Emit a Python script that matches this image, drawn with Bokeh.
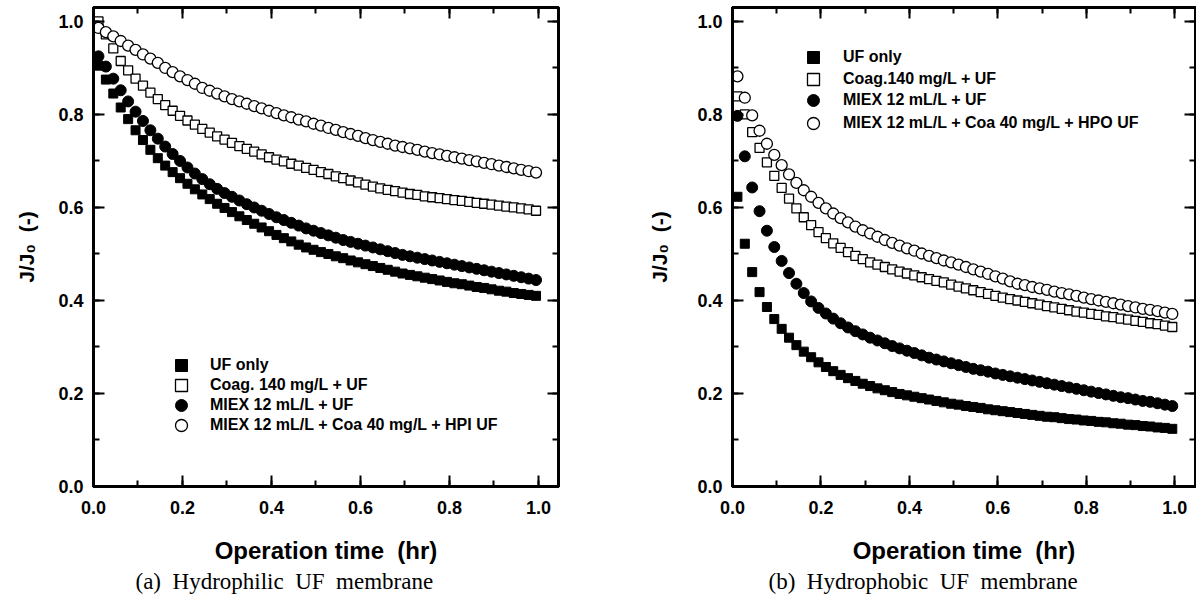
from bokeh.plotting import figure
from bokeh.models import (Range1d, SingleIntervalTicker, LinearAxis, PrintfTickFormatter,
                          CustomJSTickFormatter, Legend, LegendItem, Title)
from bokeh.layouts import row
from bokeh.embed import file_html
from bokeh.resources import INLINE

# ---- data ----
time_min = [0.67, 1.67, 2.67, 3.67, 4.67, 5.67, 6.67, 7.67, 8.67, 9.67,
            10.67, 11.67, 12.67, 13.67, 14.67, 15.67, 16.67, 17.67, 18.67, 19.67,
            20.67, 21.67, 22.67, 23.67, 24.67, 25.67, 26.67, 27.67, 28.67, 29.67,
            30.67, 31.67, 32.67, 33.67, 34.67, 35.67, 36.67, 37.67, 38.67, 39.67,
            40.67, 41.67, 42.67, 43.67, 44.67, 45.67, 46.67, 47.67, 48.67, 49.67,
            50.67, 51.67, 52.67, 53.67, 54.67, 55.67, 56.67, 57.67, 58.67, 59.67]

# (a) Hydrophilic UF membrane
phil_uf = [0.905, 0.875, 0.845, 0.815, 0.790, 0.766, 0.745, 0.724, 0.706, 0.690,
           0.676, 0.663, 0.651, 0.639, 0.628, 0.618, 0.608, 0.599, 0.590, 0.581,
           0.573, 0.565, 0.557, 0.549, 0.541, 0.534, 0.527, 0.520, 0.514, 0.509,
           0.504, 0.500, 0.495, 0.491, 0.486, 0.482, 0.478, 0.474, 0.470, 0.466,
           0.462, 0.458, 0.455, 0.452, 0.449, 0.446, 0.443, 0.440, 0.437, 0.435,
           0.432, 0.429, 0.427, 0.424, 0.421, 0.419, 0.416, 0.414, 0.412, 0.410]
phil_coag = [1.000, 0.972, 0.942, 0.915, 0.895, 0.877, 0.862, 0.847, 0.833, 0.820,
             0.808, 0.797, 0.787, 0.778, 0.769, 0.761, 0.753, 0.746, 0.739, 0.732,
             0.726, 0.720, 0.714, 0.708, 0.703, 0.699, 0.694, 0.690, 0.685, 0.681,
             0.676, 0.672, 0.667, 0.663, 0.658, 0.654, 0.649, 0.645, 0.641, 0.638,
             0.635, 0.632, 0.629, 0.627, 0.624, 0.622, 0.620, 0.618, 0.616, 0.614,
             0.612, 0.610, 0.608, 0.606, 0.604, 0.602, 0.600, 0.598, 0.596, 0.593]
phil_miex = [0.925, 0.903, 0.877, 0.852, 0.828, 0.806, 0.786, 0.766, 0.748, 0.731,
             0.715, 0.700, 0.686, 0.673, 0.661, 0.650, 0.640, 0.631, 0.623, 0.615,
             0.607, 0.600, 0.593, 0.586, 0.579, 0.573, 0.567, 0.561, 0.555, 0.550,
             0.545, 0.540, 0.535, 0.530, 0.526, 0.522, 0.518, 0.514, 0.510, 0.506,
             0.502, 0.498, 0.495, 0.492, 0.489, 0.486, 0.483, 0.480, 0.477, 0.474,
             0.471, 0.468, 0.465, 0.462, 0.459, 0.456, 0.453, 0.450, 0.447, 0.444]
phil_hpi = [0.986, 0.977, 0.968, 0.958, 0.948, 0.939, 0.929, 0.920, 0.911, 0.900,
            0.891, 0.882, 0.874, 0.866, 0.857, 0.851, 0.845, 0.839, 0.833, 0.828,
            0.823, 0.818, 0.813, 0.808, 0.803, 0.798, 0.794, 0.789, 0.785, 0.780,
            0.776, 0.771, 0.767, 0.762, 0.758, 0.754, 0.749, 0.745, 0.741, 0.737,
            0.733, 0.730, 0.727, 0.724, 0.720, 0.717, 0.714, 0.711, 0.708, 0.705,
            0.702, 0.699, 0.696, 0.693, 0.690, 0.687, 0.684, 0.681, 0.678, 0.675]

# (b) Hydrophobic UF membrane
phob_uf = [0.623, 0.522, 0.461, 0.418, 0.386, 0.360, 0.339, 0.320, 0.304, 0.290,
           0.278, 0.267, 0.257, 0.248, 0.240, 0.233, 0.227, 0.221, 0.216, 0.211,
           0.207, 0.203, 0.199, 0.196, 0.193, 0.190, 0.187, 0.184, 0.181, 0.178,
           0.176, 0.173, 0.171, 0.169, 0.166, 0.164, 0.162, 0.160, 0.158, 0.156,
           0.154, 0.152, 0.150, 0.149, 0.147, 0.145, 0.144, 0.142, 0.141, 0.139,
           0.138, 0.136, 0.135, 0.133, 0.132, 0.130, 0.129, 0.127, 0.126, 0.124]
phob_coag = [0.839, 0.800, 0.762, 0.728, 0.697, 0.668, 0.642, 0.619, 0.598, 0.579,
             0.562, 0.547, 0.534, 0.523, 0.513, 0.504, 0.496, 0.489, 0.482, 0.477,
             0.472, 0.467, 0.462, 0.458, 0.454, 0.450, 0.446, 0.442, 0.439, 0.434,
             0.430, 0.426, 0.422, 0.418, 0.414, 0.410, 0.406, 0.403, 0.400, 0.397,
             0.394, 0.391, 0.388, 0.385, 0.382, 0.379, 0.376, 0.374, 0.371, 0.369,
             0.366, 0.364, 0.361, 0.359, 0.356, 0.354, 0.351, 0.349, 0.346, 0.343]
phob_miex = [0.797, 0.710, 0.643, 0.592, 0.550, 0.515, 0.485, 0.459, 0.436, 0.416,
             0.398, 0.384, 0.372, 0.361, 0.351, 0.342, 0.334, 0.327, 0.320, 0.314,
             0.308, 0.302, 0.297, 0.292, 0.287, 0.282, 0.277, 0.273, 0.269, 0.265,
             0.261, 0.257, 0.253, 0.250, 0.247, 0.243, 0.240, 0.237, 0.234, 0.231,
             0.228, 0.225, 0.222, 0.219, 0.216, 0.213, 0.210, 0.207, 0.204, 0.201,
             0.198, 0.195, 0.192, 0.190, 0.187, 0.184, 0.182, 0.179, 0.176, 0.173]
phob_hpo = [0.882, 0.836, 0.798, 0.765, 0.737, 0.713, 0.691, 0.671, 0.653, 0.637,
            0.623, 0.610, 0.598, 0.587, 0.577, 0.568, 0.559, 0.551, 0.544, 0.537,
            0.530, 0.524, 0.518, 0.512, 0.507, 0.501, 0.496, 0.491, 0.486, 0.482,
            0.477, 0.472, 0.467, 0.462, 0.457, 0.452, 0.447, 0.441, 0.436, 0.433,
            0.429, 0.426, 0.423, 0.419, 0.416, 0.413, 0.410, 0.406, 0.403, 0.400,
            0.397, 0.394, 0.391, 0.388, 0.385, 0.382, 0.380, 0.377, 0.374, 0.371]

labels_a = ["UF only", "Coag. 140 mg/L + UF", "MIEX 12 mL/L + UF",
            "MIEX 12 mL/L + Coa 40 mg/L + HPI UF"]
labels_b = ["UF only", "Coag.140 mg/L + UF", "MIEX 12 mL/L + UF",
            "MIEX 12 mL/L + Coa 40 mg/L + HPO UF"]
caption_a = "(a)\u00a0 Hydrophilic\u00a0 UF\u00a0 membrane"
caption_b = "(b)\u00a0 Hydrophobic\u00a0 UF\u00a0 membrane"
x_title = "Operation time\u00a0 (hr)"
y_title = "J/J\u2080\u00a0 (-)"

hours = [m / 60.0 for m in time_min]

SANS = "Liberation Sans"
SERIF = "Liberation Serif"


def style_axis(ax, show_labels):
    ax.ticker = SingleIntervalTicker(interval=0.2, num_minor_ticks=2)
    if show_labels:
        ax.formatter = PrintfTickFormatter(format="%.1f")
        ax.major_label_text_font = SANS
        ax.major_label_text_font_style = "bold"
        ax.major_label_text_font_size = "18px"
        ax.major_label_text_color = "black"
    else:
        ax.formatter = CustomJSTickFormatter(code="return ''")
        ax.major_label_text_font_size = "0px"
        ax.major_label_standoff = 0
    ax.axis_line_color = "black"
    ax.axis_line_width = 3
    ax.major_tick_in = 11
    ax.major_tick_out = 0
    ax.minor_tick_in = 6
    ax.minor_tick_out = 0
    ax.major_tick_line_color = "black"
    ax.minor_tick_line_color = "black"
    ax.major_tick_line_width = 2
    ax.minor_tick_line_width = 2


def make_panel(series, labels, caption, mb_left, frame_w, mb_right, x_end,
               leg_x, leg_ys, leg_standoff, ylab_standoff, cap_offset):
    p = figure(width=mb_left + frame_w + mb_right, height=598,
               x_range=Range1d(0, x_end), y_range=Range1d(0, 1.03),
               x_axis_type=None, y_axis_type=None,
               output_backend="svg", toolbar_location=None,
               min_border_left=mb_left, min_border_right=mb_right,
               min_border_top=7, min_border_bottom=112)
    p.outline_line_color = "black"
    p.outline_line_width = 3
    p.background_fill_color = "white"
    p.border_fill_color = "white"

    xb = LinearAxis(axis_label=x_title)
    style_axis(xb, True)
    xb.major_label_standoff = 14
    xb.axis_label_standoff = 20
    xb.axis_label_text_font = SANS
    xb.axis_label_text_font_style = "bold"
    xb.axis_label_text_font_size = "24px"
    xb.axis_label_text_color = "black"
    p.add_layout(xb, "below")

    yl = LinearAxis(axis_label=y_title)
    style_axis(yl, True)
    yl.major_label_standoff = 10
    yl.axis_label_standoff = ylab_standoff
    yl.axis_label_text_font = SANS
    yl.axis_label_text_font_style = "bold"
    yl.axis_label_text_font_size = "21px"
    yl.axis_label_text_color = "black"
    p.add_layout(yl, "left")

    xa = LinearAxis()
    style_axis(xa, False)
    p.add_layout(xa, "above")
    yr = LinearAxis()
    style_axis(yr, False)
    p.add_layout(yr, "right")

    cap = Title(text=caption, align="left", offset=cap_offset,
                text_font=SERIF, text_font_style="normal",
                text_font_size="23px", text_color="black", standoff=0)
    p.add_layout(cap, "below")

    styles = [
        dict(marker="square", size=9, fill_color="black", line_color="black", line_width=1),
        dict(marker="square", size=9, fill_color="white", line_color="black", line_width=1.3),
        dict(marker="circle", size=11, fill_color="black", line_color="black", line_width=1),
        dict(marker="circle", size=11, fill_color="white", line_color="black", line_width=1.3),
    ]
    for ys, lab, st, ly in zip(series, labels, styles, leg_ys):
        r = p.scatter(hours, ys, **st)
        leg = Legend(items=[LegendItem(label=lab, renderers=[r])],
                     location=(leg_x, ly), orientation="vertical",
                     border_line_color=None, background_fill_alpha=0,
                     padding=0, margin=0, spacing=0,
                     glyph_width=30, glyph_height=30, label_height=20,
                     label_standoff=leg_standoff,
                     label_text_font=SANS, label_text_font_style="bold",
                     label_text_font_size="16px", label_text_color="black")
        p.add_layout(leg, "center")
    return p


p1 = make_panel([phil_uf, phil_coag, phil_miex, phil_hpi], labels_a, caption_a,
                mb_left=93, frame_w=465, mb_right=62, x_end=1.045,
                leg_x=73, leg_ys=[106, 86, 66, 46], leg_standoff=14,
                ylab_standoff=17, cap_offset=42)
p2 = make_panel([phob_uf, phob_coag, phob_miex, phob_hpo], labels_b, caption_b,
                mb_left=112, frame_w=463, mb_right=1, x_end=1.047,
                leg_x=66, leg_ys=[414, 392, 371, 348], leg_standoff=15,
                ylab_standoff=23, cap_offset=36)

layout = row(p1, p2)
open("out.html", "w").write(file_html(layout, INLINE))
